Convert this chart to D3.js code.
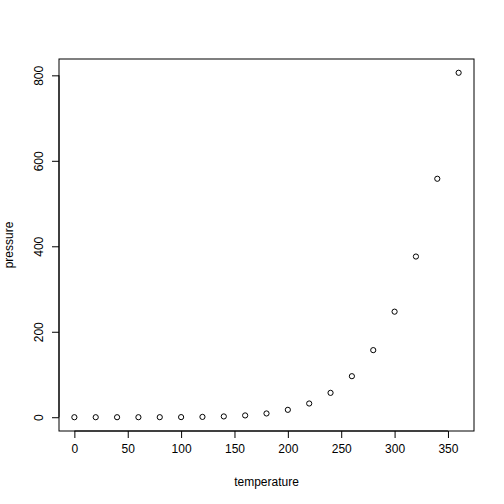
<!DOCTYPE html>
<html><head><meta charset="utf-8">
<script src="https://cdn.jsdelivr.net/npm/d3@7"></script>
<style>body{margin:0;background:#fff}text{font-family:"Liberation Sans",Arial,sans-serif;font-size:12px}</style>
</head><body>
<script>
const temperature = [0,20,40,60,80,100,120,140,160,180,200,220,240,260,280,300,320,340,360];
const pressure = [0.0002,0.0012,0.006,0.03,0.09,0.27,0.75,1.85,4.2,8.8,17.3,32.1,57,96,157,247,376,558,806];
const xTicks = [0,50,100,150,200,250,300,350];
const yTicks = [0,200,400,600,800];

const W = 504, H = 504, L = 59, R = 474, T = 59, B = 431;
const svg = d3.select("body").append("svg").attr("width", W).attr("height", H);
const x = d3.scaleLinear().domain([-14.4, 374.4]).range([L, R]);
const y = d3.scaleLinear().domain([-32.24, 838.24]).range([B, T]);

svg.append("rect").attr("x", L).attr("y", T).attr("width", R - L).attr("height", B - T)
  .attr("fill", "none").attr("stroke", "#000");

const xa = svg.append("g").attr("transform", `translate(0,${B})`)
  .call(d3.axisBottom(x).tickValues(xTicks).tickSize(7).tickPadding(6).tickFormat(d3.format("d")));
xa.select(".domain").attr("d", `M${x(0)},0H${x(350)}`);
const ya = svg.append("g").attr("transform", `translate(${L},0)`)
  .call(d3.axisLeft(y).tickValues(yTicks).tickSize(7).tickPadding(4).tickFormat(d3.format("d")));
ya.select(".domain").attr("d", `M0,${y(0)}V${y(800)}`);
ya.selectAll(".tick text").attr("text-anchor", "middle").attr("dy", 0)
  .attr("transform", function() { return `translate(-16,0) rotate(-90)`; }).attr("x", 0);
svg.selectAll(".tick text").style("font-size", "12px").attr("fill", "#000");

svg.selectAll("circle").data(temperature).enter().append("circle")
  .attr("cx", d => x(d)).attr("cy", (d, i) => y(pressure[i])).attr("r", 2.6)
  .attr("fill", "none").attr("stroke", "#000");

svg.append("text").attr("x", (L + R) / 2).attr("y", 486).attr("text-anchor", "middle").text("temperature");
svg.append("text").attr("transform", `translate(13,${(T + B) / 2}) rotate(-90)`).attr("text-anchor", "middle").text("pressure");
</script>
</body></html>
